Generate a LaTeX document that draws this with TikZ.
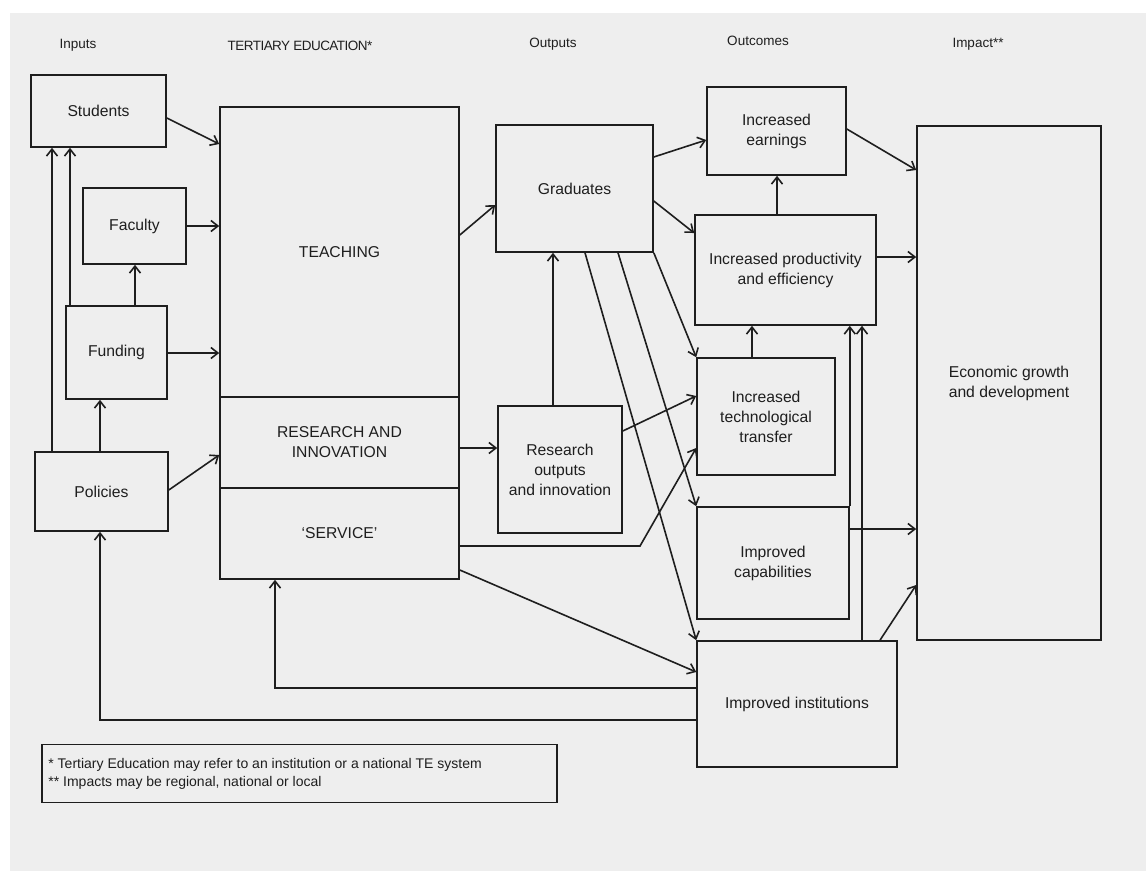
\documentclass[tikz,border=0pt]{standalone}
\usepackage{fontspec}
\setmainfont{Liberation Sans}
\usetikzlibrary{arrows.meta}
\definecolor{paper}{HTML}{EEEEEE}
\definecolor{ink}{HTML}{1E1E1E}
\begin{document}
\begin{tikzpicture}[x=1pt,y=-1pt,
  box/.style={draw=ink,line width=1.6pt,inner sep=2pt,align=center,text=ink,
    font=\fontsize{15.7}{20}\selectfont},
  hdr/.style={text=ink,font=\fontsize{13.5}{16}\selectfont,inner sep=0pt},
  arr/.style={draw=ink,line width=1.6pt,-{Straight Barb[length=7pt,width=11pt,line width=1.6pt]}},
  ln/.style={draw=ink,line width=1.6pt}]
\useasboundingbox (0,0) rectangle (1146,871);
\fill[white] (0,0) rectangle (1146,871);
\fill[paper] (10,13) rectangle (1146,871);
% headers
\node[hdr] (hin) at (78,45) {Inputs};
\node[hdr] (hte) at (300,46) {\addfontfeatures{LetterSpace=-4}TERTIARY EDUCATION*};
\node[hdr] (hout) at (553,44) {Outputs};
\node[hdr] (hoc) at (758,41) {Outcomes};
\node[hdr] (him) at (978,44) {Impact**};
% inputs
\node[box,minimum width=135,minimum height=72] (students) at (98.5,111) {Students};
\node[box,minimum width=103,minimum height=76] (faculty) at (134.5,226) {Faculty};
\node[box,minimum width=101,minimum height=93] (funding) at (116.5,352.5) {Funding};
\node[box,minimum width=133,minimum height=79] (policies) at (101.5,491.5) {Policies};
% tertiary education
\node[box,minimum width=239,minimum height=290] (teach) at (339.5,252) {TEACHING};
\node[box,minimum width=239,minimum height=91] (research) at (339.5,442.5) {RESEARCH AND\\INNOVATION};
\node[box,minimum width=239,minimum height=91] (service) at (339.5,533.5) {`SERVICE'};
% outputs
\node[box,minimum width=157,minimum height=127] (grads) at (574.5,188.5) {Graduates};
\node[box,minimum width=124,minimum height=127] (resout) at (560,469.5) {Research\\outputs\\and innovation};
% outcomes
\node[box,minimum width=139,minimum height=88] (earn) at (776.5,131) {Increased\\earnings};
\node[box,minimum width=181,minimum height=110] (prod) at (785.5,270) {Increased productivity\\and efficiency};
\node[box,minimum width=138,minimum height=117] (tech) at (766,416.5) {Increased\\technological\\transfer};
\node[box,minimum width=152,minimum height=112] (capab) at (773,563) {Improved\\capabilities};
\node[box,minimum width=200,minimum height=126] (inst) at (797,704) {Improved institutions};
% impact
\node[box,minimum width=184,minimum height=514] (econ) at (1009,383) {Economic growth\\and development};
% legend
\node[draw=ink,line width=1.6pt,minimum width=515,minimum height=58,inner sep=0pt] (legend) at (299.5,773.5) {};
\node[anchor=west,align=left,text=ink,font=\fontsize{14}{18}\selectfont,inner sep=0pt] (legtext) at ([xshift=7pt]legend.west)
  {* Tertiary Education may refer to an institution or a national TE system\\** Impacts may be regional, national or local};
% input arrows
\draw[arr] (students.east |- 0,118) -- (teach.west |- 0,144);
\draw[arr] (faculty.east) -- (teach.west |- faculty.east);
\draw[arr] (funding.east |- 0,353) -- (teach.west |- 0,353);
\draw[arr] (policies.east |- 0,490) -- (research.west |- 0,455);
\draw[arr] (policies.north -| 52,0) -- (students.south -| 52,0);
\draw[arr] (funding.north -| 70,0) -- (students.south -| 70,0);
\draw[arr] (funding.north -| 135,0) -- (faculty.south -| 135,0);
\draw[arr] (policies.north -| 100,0) -- (funding.south -| 100,0);
% TE to outputs
\draw[arr] (teach.east |- 0,235) -- (grads.west |- 0,205);
\draw[arr] (research.east |- 0,448) -- (resout.west |- 0,448);
\draw[arr] (resout.north -| 553,0) -- (grads.south -| 553,0);
% outputs to outcomes
\draw[arr] (grads.east |- 0,157) -- (earn.west |- 0,140);
\draw[arr] (grads.east |- 0,201) -- (prod.west |- 0,233);
\draw[arr] (grads.south east) -- (tech.north west);
\draw[arr] (grads.south -| 618,0) -- (capab.north west);
\draw[arr] (grads.south -| 585,0) -- (inst.north west);
\draw[arr] (resout.east |- 0,431) -- (tech.west |- 0,396);
\draw[arr] (service.east |- 0,546) -- (640,546) -- (tech.west |- 0,448);
\draw[arr] (service.east |- 0,570) -- (inst.west |- 0,672);
% among outcomes
\draw[arr] (prod.north -| 777,0) -- (earn.south -| 777,0);
\draw[arr] (tech.north -| 752,0) -- (prod.south -| 752,0);
\draw[arr] (capab.north east) -- (prod.south -| capab.north east);
\draw[arr] (inst.north -| 862,0) -- (prod.south -| 862,0);
% outcomes to impact
\draw[arr] (earn.east |- 0,129) -- (econ.west |- 0,170);
\draw[arr] (prod.east |- 0,257) -- (econ.west |- 0,257);
\draw[arr] (capab.east |- 0,529) -- (econ.west |- 0,529);
\draw[arr] (inst.north -| 880,0) -- (econ.west |- 0,585);
% feedback
\draw[arr] (inst.west |- 0,688) -- (275,688) -- (service.south -| 275,0);
\draw[arr] (inst.west |- 0,720) -- (100,720) -- (policies.south -| 100,0);
\end{tikzpicture}
\end{document}
